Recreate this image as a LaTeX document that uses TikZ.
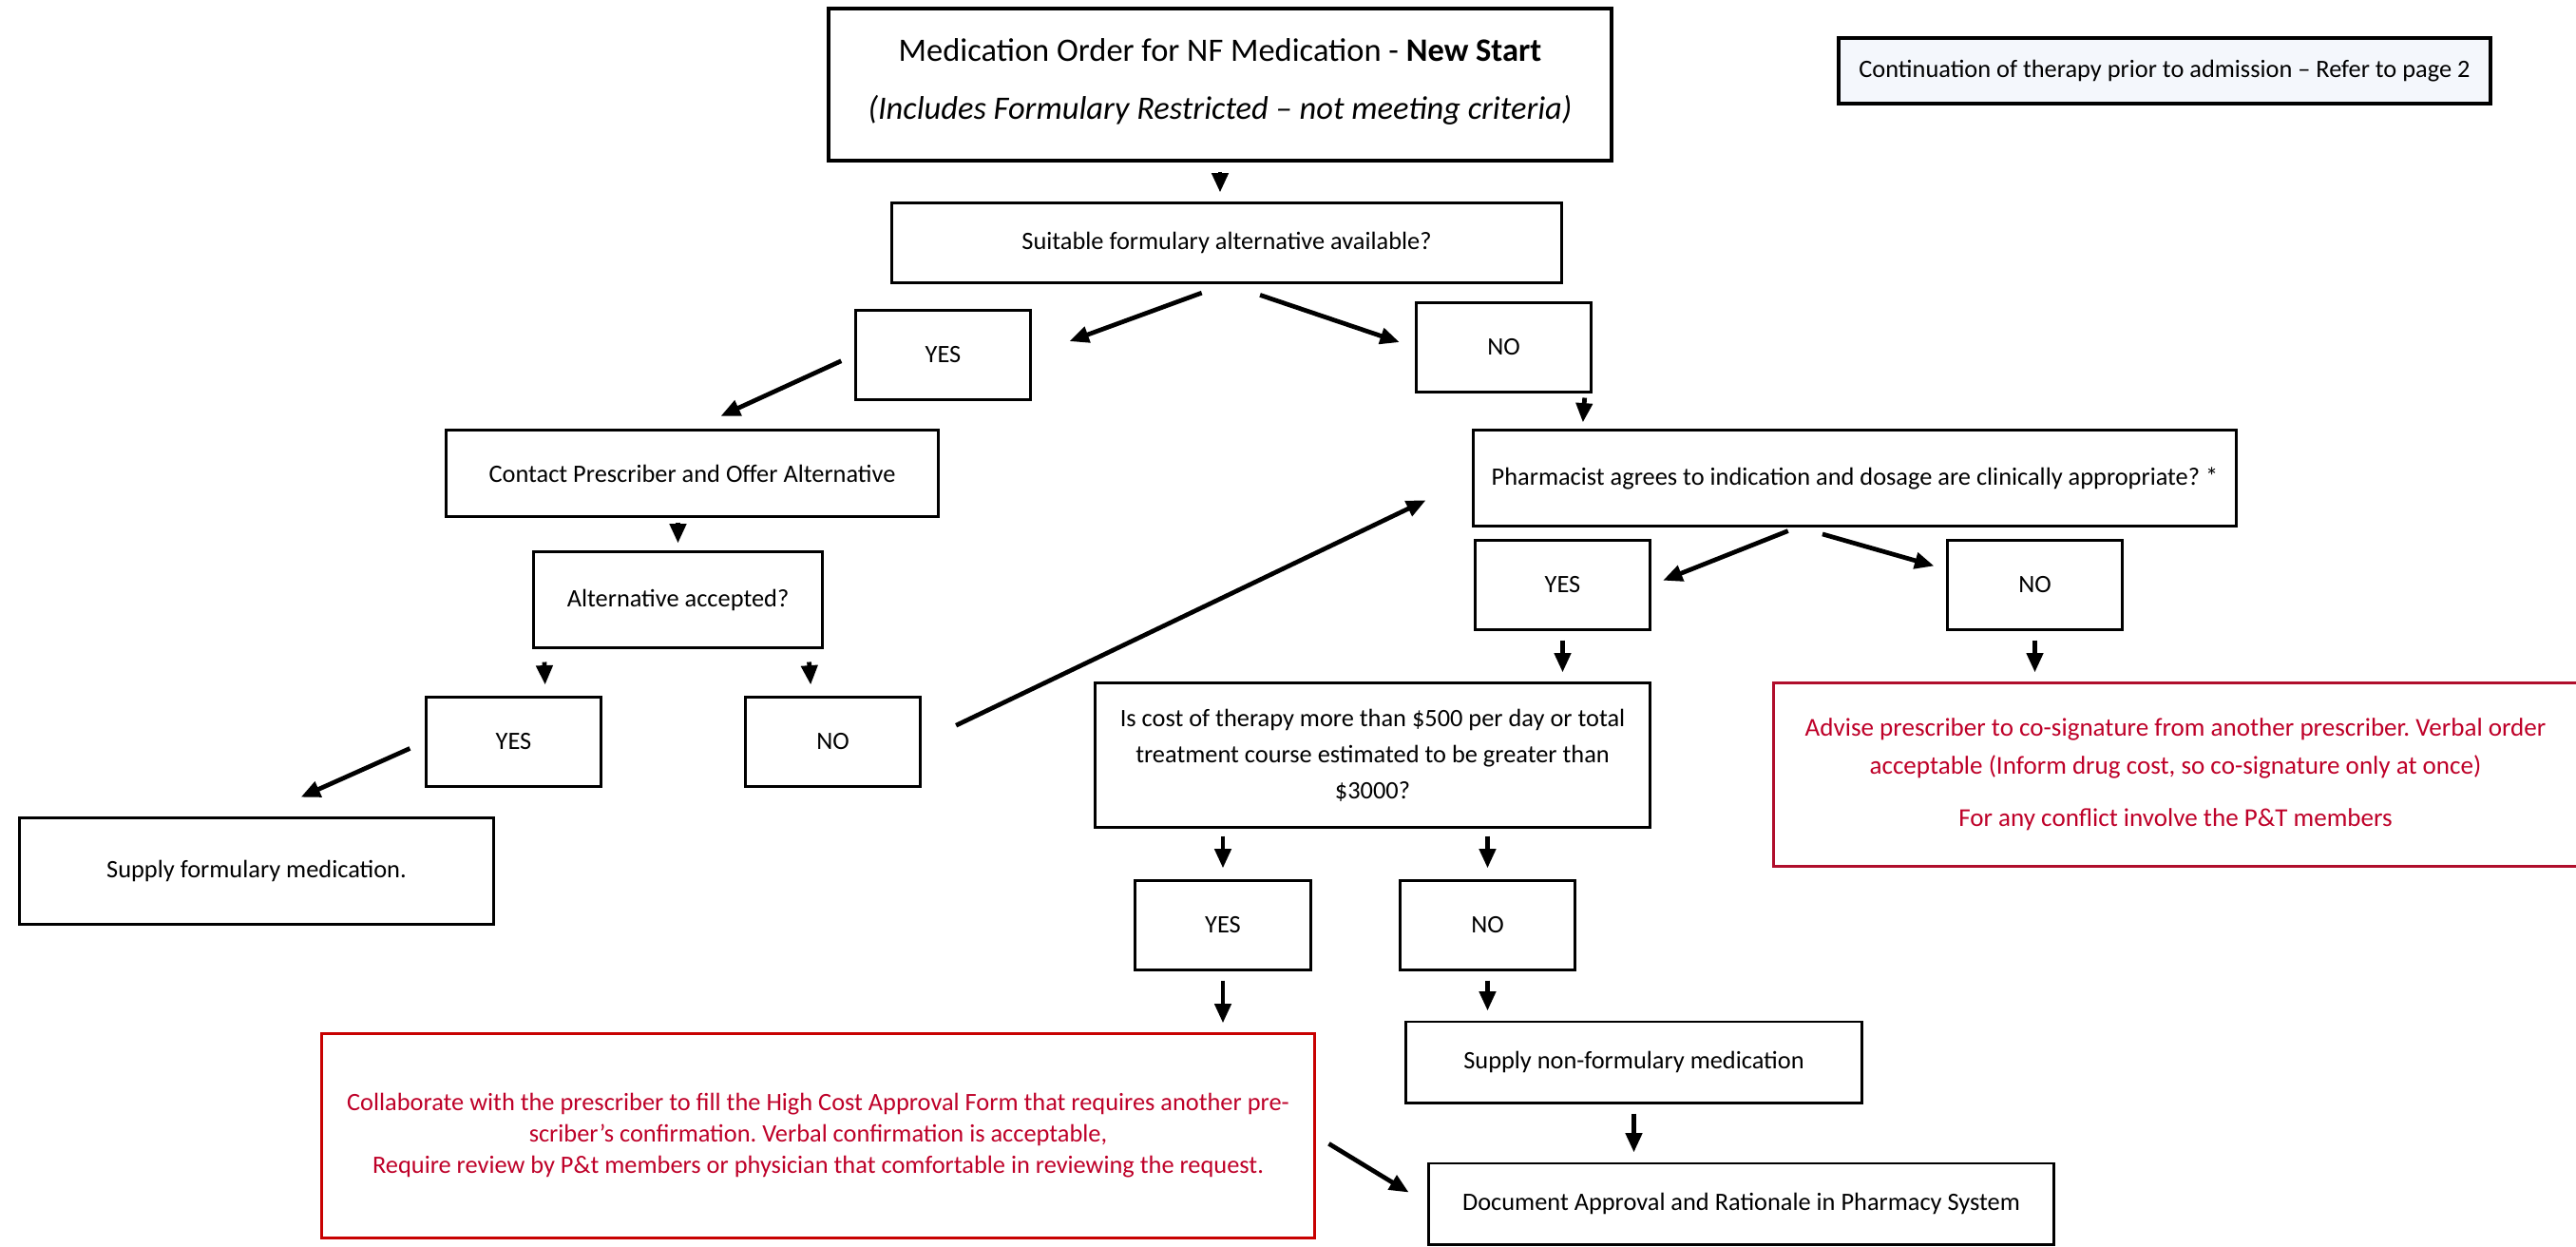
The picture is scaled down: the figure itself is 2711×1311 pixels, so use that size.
\documentclass[tikz,border=0pt]{standalone}
\usepackage{fontspec}
\setmainfont{Carlito}
\frenchspacing
\usetikzlibrary{arrows.meta}
\definecolor{contfill}{RGB}{244,247,252}
\definecolor{costred}{RGB}{200,0,0}
\definecolor{advred}{RGB}{176,14,44}
\definecolor{redtext}{RGB}{190,0,40}
\tikzset{
  box/.style={draw, line width=0.85pt, inner sep=0pt, align=center, font=\fontsize{7.5}{10.8}\selectfont},
  yn/.style={box, minimum width=1.84cm, minimum height=0.93cm},
  redbox/.style={box, text=redtext},
  arr/.style={-{Triangle[length=5.8pt,width=4.8pt]}, line width=1.35pt, shorten <=0.05cm, shorten >=0.08cm},
}
\begin{document}
\begin{tikzpicture}[x=0.01cm, y=-0.01cm]
\useasboundingbox (0,0) rectangle (2711,1311);
% edit here for the main boxes
\node[box, line width=1.1pt, minimum width=8.23cm, minimum height=1.6cm, font=\fontsize{9.8}{17.4}\selectfont] (start) at (1284,89)
  {Medication Order for NF Medication - \textbf{New Start}\\ \textit{(Includes Formulary Restricted – not meeting criteria)}\\[-14pt]};
\node[box, line width=1.1pt, fill=contfill, minimum width=6.86cm, minimum height=0.69cm] (cont) at (2278,74.5)
  {Continuation of therapy prior to admission – Refer to page 2};
\node[box, minimum width=7.04cm, minimum height=0.83cm] (suit) at (1291,255.5) {Suitable formulary alternative available?};
\node[box, minimum width=5.17cm, minimum height=0.9cm] (contact) at (728.5,498) {Contact Prescriber and Offer Alternative};
\node[box, minimum width=8.02cm, minimum height=1cm] (pharm) at (1952,503)
  {Pharmacist agrees to indication and dosage are clinically appropriate? *};
\node[box, minimum width=3.03cm, minimum height=1cm] (altacc) at (713.5,631) {Alternative accepted?};
\node[box, minimum width=4.98cm, minimum height=1.11cm] (supfor) at (270,916.5) {Supply formulary medication.};
\node[box, minimum width=5.83cm, minimum height=1.51cm] (cost) at (1444.5,794.5)
  {Is cost of therapy more than \$500 per day or total\\ treatment course estimated to be greater than\\ \$3000?};
\node[redbox, draw=advred, minimum width=8.45cm, minimum height=1.92cm, font=\fontsize{7.7}{11.4}\selectfont] (advise) at (2289.5,815)
  {Advise prescriber to co-signature from another prescriber. Verbal order\\ acceptable (Inform drug cost, so co-signature only at once)\\[4.2pt] For any conflict involve the P\&T members};
\node[redbox, draw=costred, minimum width=10.44cm, minimum height=2.14cm, font=\fontsize{7.5}{9.4}\selectfont] (collab) at (861,1195)
  {Collaborate with the prescriber to fill the High Cost Approval Form that requires another pre-\\ scriber’s confirmation. Verbal confirmation is acceptable,\\ Require review by P\&t members or physician that comfortable in reviewing the request.};
\node[box, minimum width=4.79cm, minimum height=0.85cm] (supnon) at (1719.5,1117.5) {Supply non-formulary medication};
\node[box, minimum width=6.57cm, minimum height=0.85cm] (docu) at (1832.5,1266.5) {Document Approval and Rationale in Pharmacy System};
% edit here for the YES/NO boxes
\foreach \n/\x/\y/\t in {yesalt/992.5/373.5/YES, noalt/1582.5/365.5/NO, yespharm/1644.5/615.5/YES, nopharm/2141.5/615.5/NO,
  yesacc/540.5/780.5/YES, noacc/876.5/780.5/NO, yescost/1287/973.5/YES, nocost/1565.5/973.5/NO}
  \node[yn] (\n) at (\x,\y) {\t};
% edit here for the straight down arrows
\foreach \a/\b in {start/suit, yespharm/cost, nopharm/advise, yescost/collab, nocost/supnon, supnon/docu}
  \draw[arr, shorten <=0.1cm, shorten >=0.1cm] (\a.south) -- (\a.south |- \b.north);
\draw[arr] (contact.south -| altacc.north) -- (altacc.north);
\draw[arr, shorten <=0.08cm, shorten >=0.12cm] (yescost.north |- cost.south) -- (yescost.north);
\draw[arr, shorten <=0.08cm, shorten >=0.12cm] (nocost.north |- cost.south) -- (nocost.north);
\draw[arr, shorten <=0.05cm, shorten >=0.07cm] ([xshift=-0.08cm]noalt.south east) -- ([xshift=1.16cm]pharm.north west);
\draw[arr, shorten <=0.14cm, shorten >=0.12cm] ([xshift=0.12cm]altacc.south west) -- ([xshift=0.335cm]yesacc.north);
\draw[arr, shorten <=0.14cm, shorten >=0.12cm] ([xshift=-0.16cm]altacc.south east) -- ([xshift=-0.225cm]noacc.north);
% edit here for the slanted arrows
\draw[arr, shorten <=0.28cm, shorten >=0.42cm] (suit.south) -- (yesalt.east);
\draw[arr, shorten <=0.37cm, shorten >=0.17cm] (suit.south) -- (noalt.west);
\draw[arr, shorten <=0.15cm, shorten >=0.33cm] (yesalt.west) -- (contact.north);
\draw[arr, shorten <=0.11cm, shorten >=0.13cm] ([xshift=-0.6cm]pharm.south) -- (yespharm.east);
\draw[arr, shorten <=0.27cm, shorten >=0.13cm] ([xshift=-0.6cm]pharm.south) -- (nopharm.170);
\draw[arr, shorten <=0.4cm, shorten >=0.54cm] (noacc.east) -- (pharm.west);
\draw[arr, shorten <=0.17cm, shorten >=0.51cm] (yesacc.west) -- (supfor.north);
\draw[arr, shorten <=0.16cm, shorten >=0.23cm] (collab.east) -- (docu.west);
\end{tikzpicture}
\end{document}
